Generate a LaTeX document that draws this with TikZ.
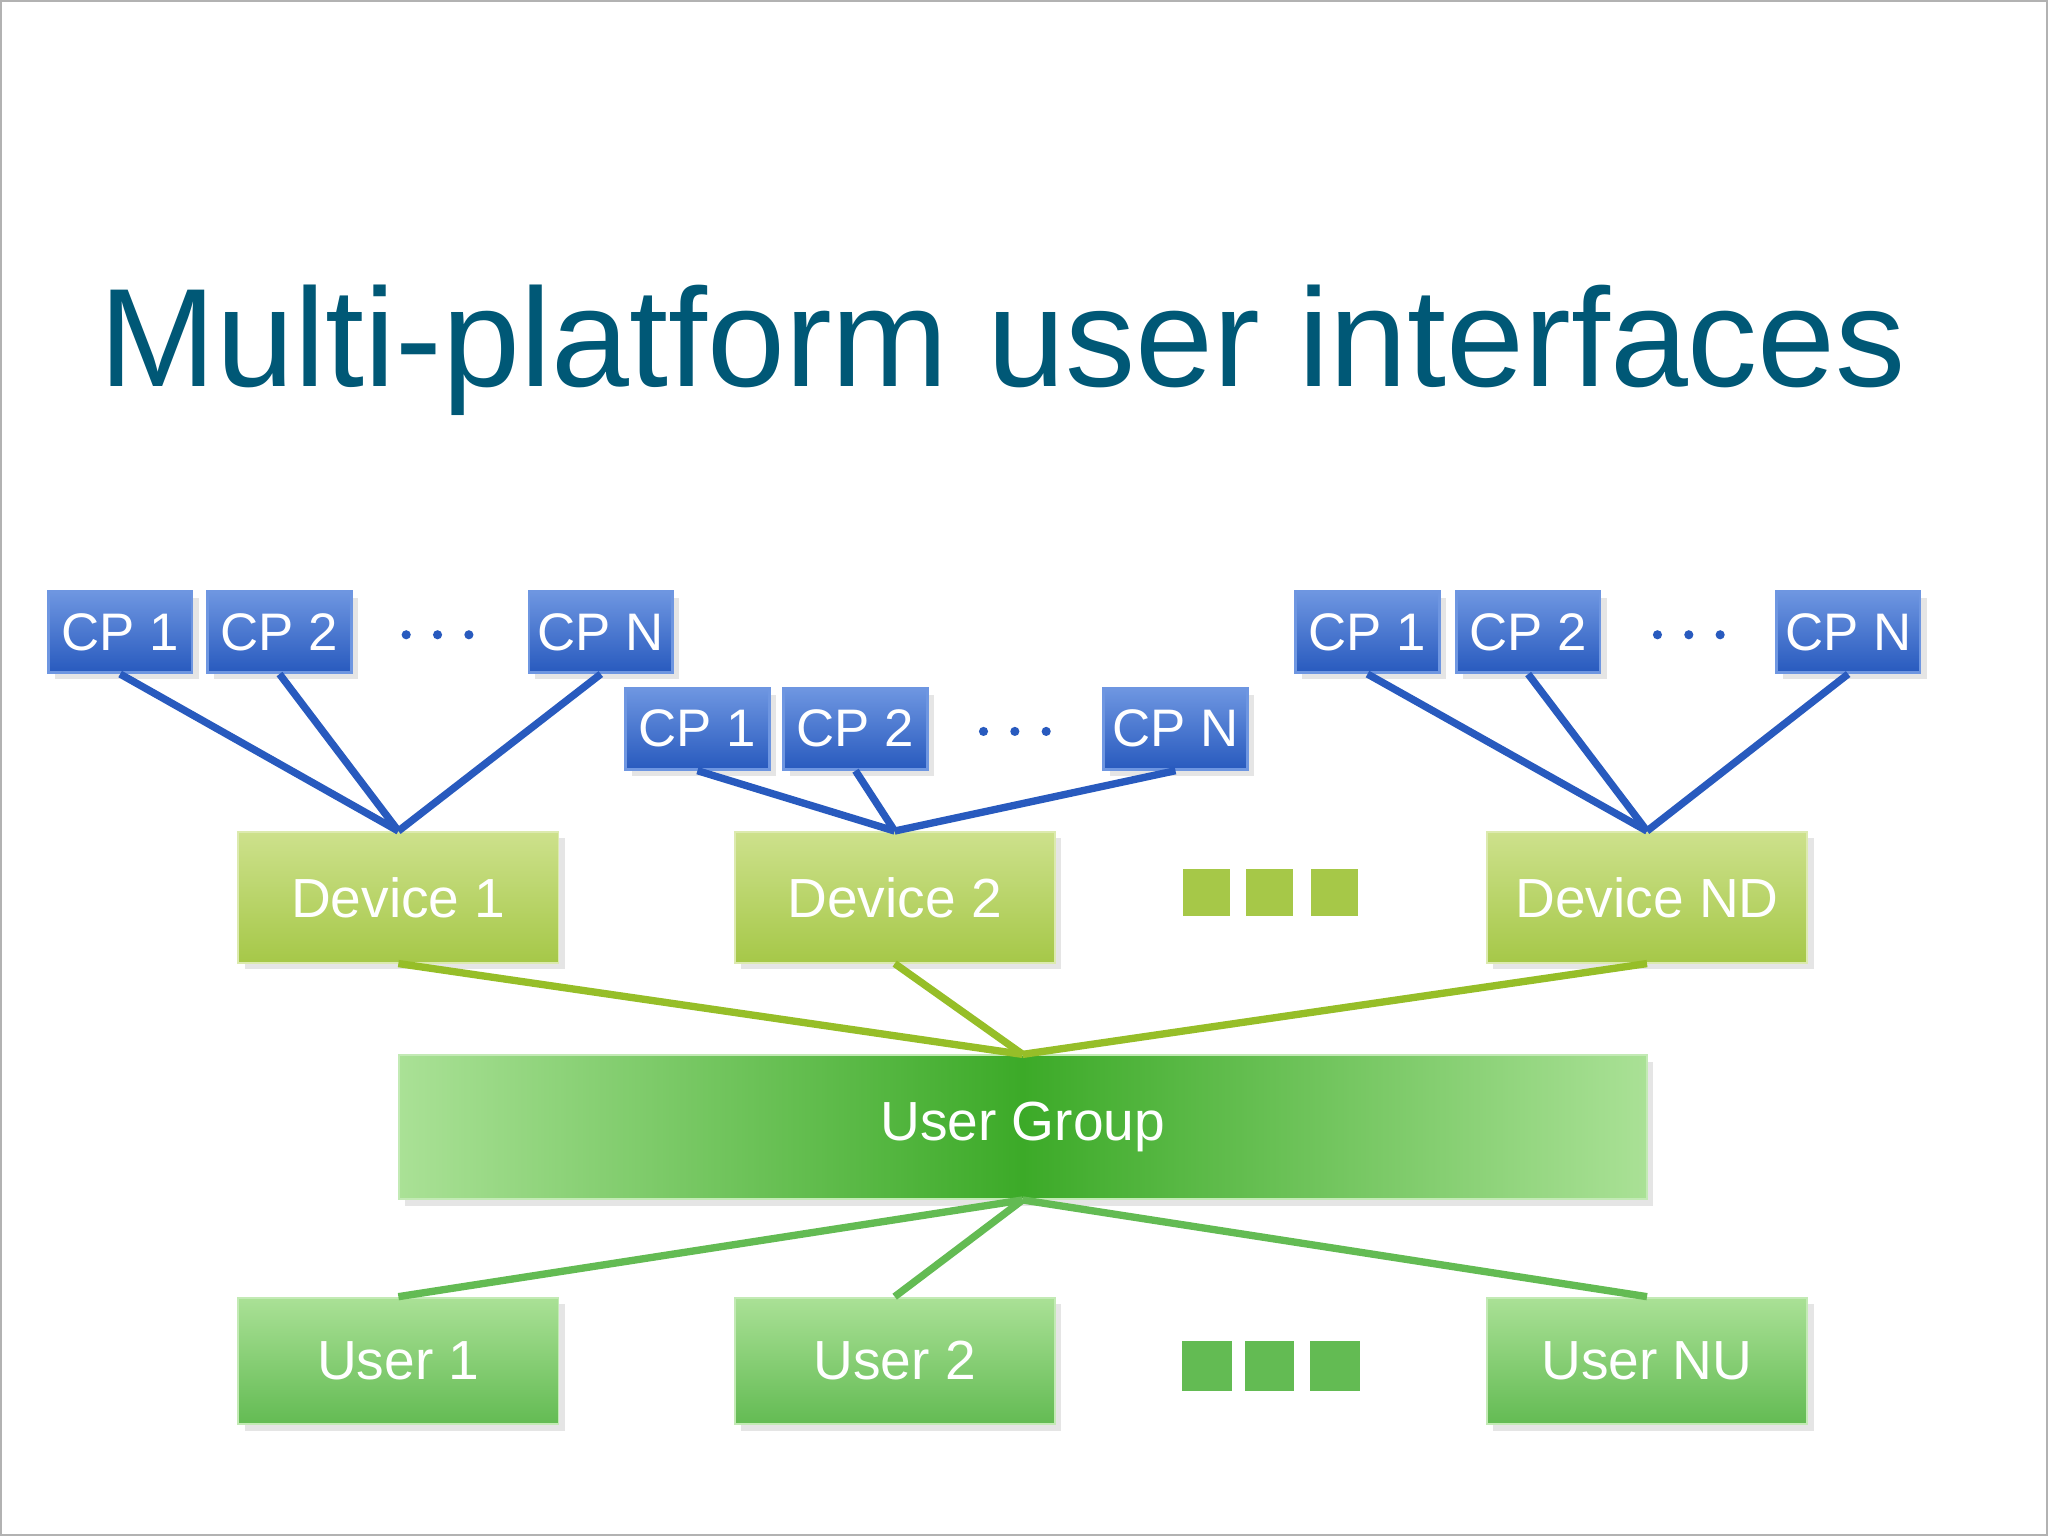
\documentclass[tikz,border=0pt]{standalone}
\usepackage{fontspec}
\setmainfont{Liberation Sans}
\usetikzlibrary{shadows}
\definecolor{titleteal}{RGB}{0,88,118}
\definecolor{cpblue}{RGB}{40,90,190}
\definecolor{cplight}{RGB}{110,150,225}
\definecolor{devdark}{RGB}{150,190,40}
\definecolor{devlight}{RGB}{205,225,140}
\definecolor{usrdark}{RGB}{60,170,40}
\definecolor{usrlight}{RGB}{170,225,150}
\begin{document}
\begin{tikzpicture}[x=0.01cm,y=-0.01cm,
  shd/.style={drop shadow={opacity=0.2,shadow xshift=0.05cm,shadow yshift=-0.05cm}},
  cp/.style={draw=cplight,line width=0.6pt,minimum width=1.1cm,minimum height=0.62cm,
    top color=cplight,bottom color=cpblue,text=white,inner sep=0pt,
    font=\fontsize{11.5}{14}\selectfont,shd},
  dev/.style={draw=devlight!70!white,minimum width=2.45cm,minimum height=1cm,
    top color=devlight,bottom color=devdark!85!white,text=white,
    font=\fontsize{12}{14}\selectfont,shd},
  usr/.style={draw=usrlight!70!white,minimum width=2.45cm,minimum height=0.97cm,
    top color=usrlight,bottom color=usrdark!80!white,text=white,
    font=\fontsize{12}{14}\selectfont,shd},
  grp/.style={draw=usrlight!70!white,minimum width=9.55cm,minimum height=1.1cm,
    left color=usrlight,right color=usrlight,middle color=usrdark,text=white,
    font=\fontsize{12}{14}\selectfont,shd},
  sq/.style={fill=devdark!85!white,minimum size=0.36cm,inner sep=0pt},
  usq/.style={fill=usrdark!80!white,minimum size=0.38cm,inner sep=0pt},
  bdot/.style={circle,fill=cpblue,inner sep=0pt,minimum size=0.07cm},
  cpl/.style={draw=cpblue,line width=1.6pt},
  devl/.style={draw=devdark,line width=1.6pt},
  usrl/.style={draw=usrdark!80!white,line width=1.6pt}]
\useasboundingbox[fill=white] (0,0) rectangle (1568,1176);
\draw[gray!60] (0.5,0.5) rectangle (1567.5,1175.5);

\node[text=titleteal,font=\fontsize{30.5}{34}\selectfont] (title) at (768,268) {Multi-platform user interfaces};

% CP boxes, group A
\node[cp] (a1) at (92,484) {CP 1};
\node[cp] (a2) at (214,484) {CP 2};
\node[cp] (an) at (460,484) {CP N};
% group B
\node[cp] (b1) at (534,558) {CP 1};
\node[cp] (b2) at (655,558) {CP 2};
\node[cp] (bn) at (900,558) {CP N};
% group C
\node[cp] (c1) at (1047,484) {CP 1};
\node[cp] (c2) at (1170,484) {CP 2};
\node[cp] (cn) at (1415,484) {CP N};
% dots
\foreach \g/\x/\y in {a/335/486,b/777/560,c/1293/486}
  \foreach \i in {-1,0,1}
    \node[bdot] (d\g\i) at (\x+\i*24,\y) {};

% devices
\node[dev] (dev1) at (305,687) {Device 1};
\node[dev] (dev2) at (685,687) {Device 2};
\node[dev] (devn) at (1261,687) {Device ND};
\node[sq] (ds1) at (924,683) {};
\node[sq] (ds2) at (972,683) {};
\node[sq] (ds3) at (1022,683) {};

% user group
\node[grp] (ug) at (783,863) {User Group};

% users
\node[usr] (u1) at (305,1042) {User 1};
\node[usr] (u2) at (685,1042) {User 2};
\node[usr] (un) at (1261,1042) {User NU};
\node[usq] (us1) at (924,1046) {};
\node[usq] (us2) at (972,1046) {};
\node[usq] (us3) at (1022,1046) {};

% connectors
\foreach \c in {a1,a2,an} \draw[cpl] (\c.south) -- (dev1.north);
\foreach \c in {b1,b2,bn} \draw[cpl] (\c.south) -- (dev2.north);
\foreach \c in {c1,c2,cn} \draw[cpl] (\c.south) -- (devn.north);
\foreach \d in {dev1,dev2,devn} \draw[devl] (\d.south) -- (ug.north);
\foreach \u in {u1,u2,un} \draw[usrl] (ug.south) -- (\u.north);
\end{tikzpicture}
\end{document}
